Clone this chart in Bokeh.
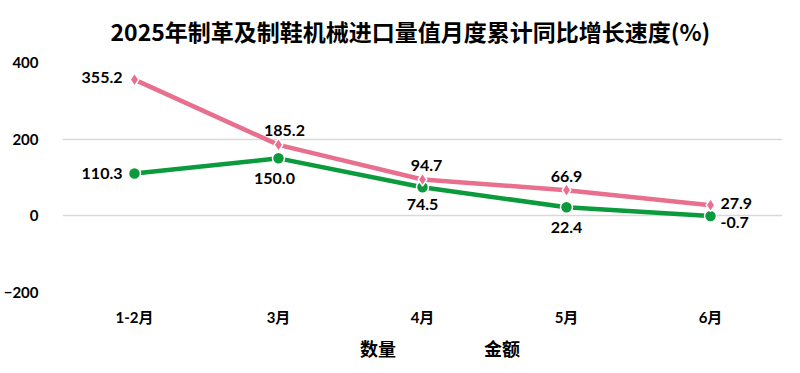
from bokeh.plotting import figure
from bokeh.layouts import column
from bokeh.models import ColumnDataSource, Range1d, Legend, LegendItem, FixedTicker, LabelSet
from bokeh.core.properties import value
from bokeh.embed import file_html
from bokeh.resources import INLINE

months = ["1-2月", "3月", "4月", "5月", "6月"]
qty = [110.3, 150.0, 74.5, 22.4, -0.7]
amt = [355.2, 185.2, 94.7, 66.9, 27.9]
qty_labels = ["110.3", "150.0", "74.5", "22.4", "-0.7"]
amt_labels = ["355.2", "185.2", "94.7", "66.9", "27.9"]
y_ticks = [-200, 0, 200, 400]
series_names = ["数量", "金额"]

# label placement styles
qty_dx = [-12, -4, 0, 0, 10]
qty_dy = [0, -20, -17, -20, -6]
qty_align = ["right", "center", "center", "center", "left"]
amt_dx = [-12, 6, 4, 0, 10]
amt_dy = [2, 14, 14, 14, 2]
amt_align = ["right", "center", "center", "center", "left"]

GREEN = "#0b9a3c"
PINK = "#e8708e"
FONT = "Lato, Noto Sans CJK SC"

p = figure(frame_width=720, frame_height=230, x_range=months, y_range=Range1d(-200, 400),
           output_backend="svg", toolbar_location=None,
           min_border_left=50, min_border_right=14, min_border_top=49, min_border_bottom=0)
p.title.text = "2025年制革及制鞋机械进口量值月度累计同比增长速度(%)"
p.title.align = "left"
p.title.offset = 48
p.title.standoff = 26
p.title.vertical_align = "top"
p.title.text_font = "Noto Sans CJK SC"
p.title.text_font_size = "23px"
p.title.text_font_style = "bold"
p.title.text_color = "#000000"
p.outline_line_color = None
p.background_fill_color = "white"

p.xgrid.grid_line_color = None
p.ygrid.grid_line_color = "#d9d9d9"
p.ygrid.grid_line_width = 1.5
p.yaxis.ticker = FixedTicker(ticks=y_ticks)
for ax in (p.xaxis, p.yaxis):
    ax.axis_line_color = None
    ax.major_tick_line_color = None
    ax.minor_tick_line_color = None
    ax.major_tick_out = 0
    ax.minor_tick_out = 0
    ax.major_label_text_font = FONT
    ax.major_label_text_font_style = "bold"
    ax.major_label_text_font_size = "15px"
    ax.major_label_text_color = "#000000"
p.yaxis.major_label_standoff = 24
p.xaxis.major_label_standoff = 15

src_q = ColumnDataSource(dict(x=months, y=qty, lab=qty_labels, dx=qty_dx, dy=qty_dy, al=qty_align))
src_a = ColumnDataSource(dict(x=months, y=amt, lab=amt_labels, dx=amt_dx, dy=amt_dy, al=amt_align))

p.line("x", "y", source=src_q, line_color=GREEN, line_width=4.5)
p.scatter("x", "y", source=src_q, marker="circle", size=12, fill_color=GREEN,
          line_color="white", line_width=1.5)
p.line("x", "y", source=src_a, line_color=PINK, line_width=4.5)
p.scatter("x", "y", source=src_a, marker="diamond", size=13, fill_color=PINK,
          line_color="white", line_width=1.5)

for src in (src_q, src_a):
    p.add_layout(LabelSet(x="x", y="y", text="lab", source=src, x_offset="dx", y_offset="dy",
                          text_align="al", text_baseline="middle", text_font=value(FONT),
                          text_font_style="bold", text_font_size="16px", text_color="#000000"))

# legend strip
lf = figure(width=784, height=40, x_range=Range1d(0, 1), y_range=Range1d(0, 1),
            output_backend="svg", toolbar_location=None, min_border=0)
lf.axis.visible = False
lf.grid.visible = False
lf.outline_line_color = None
empty = dict(x=[], y=[])
lq = lf.line("x", "y", source=ColumnDataSource(empty), line_color=GREEN, line_width=4.5)
mq = lf.scatter("x", "y", source=ColumnDataSource(empty), marker="circle", size=10,
                fill_color=GREEN, line_color="white", line_width=1.5)
la = lf.line("x", "y", source=ColumnDataSource(empty), line_color=PINK, line_width=4.5)
ma = lf.scatter("x", "y", source=ColumnDataSource(empty), marker="diamond", size=11,
                fill_color=PINK, line_color="white", line_width=1.5)
legend = Legend(items=[LegendItem(label=series_names[0], renderers=[lq, mq]),
                       LegendItem(label=series_names[1], renderers=[la, ma])],
                orientation="horizontal", location="center",
                label_text_font=FONT, label_text_font_style="bold", label_text_font_size="18px",
                label_text_color="#000000", border_line_color=None, background_fill_alpha=0,
                glyph_width=45, label_standoff=3, spacing=40, margin=0, padding=0)
lf.add_layout(legend, "center")

open("out.html", "w").write(file_html(column(p, lf, spacing=0), INLINE))
